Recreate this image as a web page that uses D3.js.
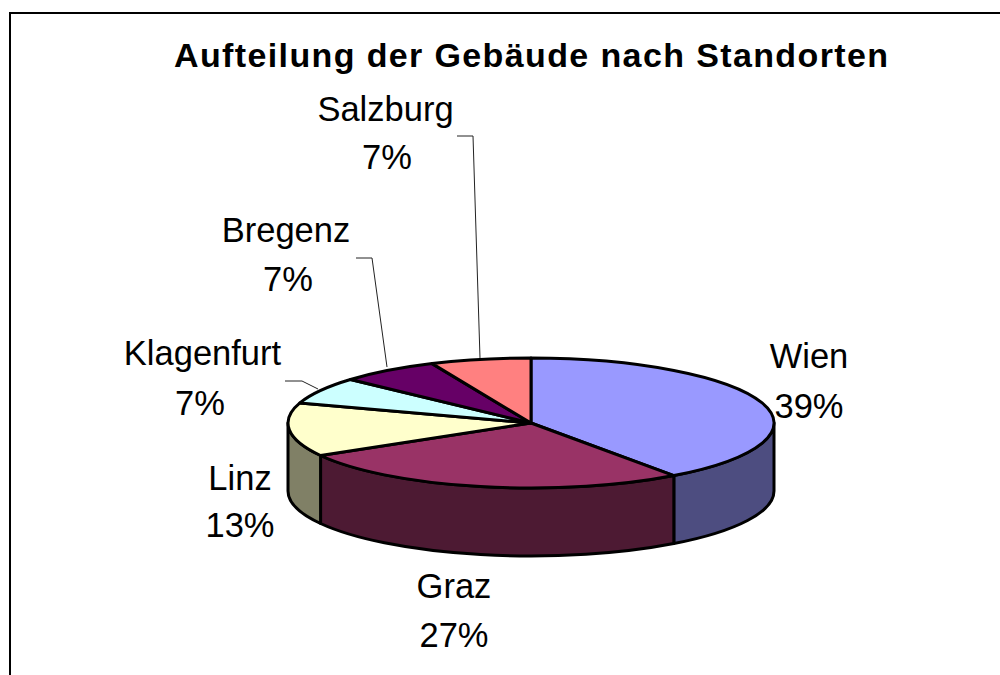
<!DOCTYPE html>
<html><head><meta charset="utf-8">
<script src="https://cdn.jsdelivr.net/npm/d3@7"></script>
<style>html,body{margin:0;padding:0;background:#fff}svg{display:block}text{font-family:"Liberation Sans",Arial,sans-serif;fill:#000}</style>
</head><body><svg id="c" width="1000" height="675"></svg>
<script>
const titleText = "Aufteilung der Gebäude nach Standorten";
const categories = ["Wien","Graz","Linz","Klagenfurt","Bregenz","Salzburg"];
const percentLabels = ["39%","27%","13%","7%","7%","7%"];
const sliceShares = [6,4,2,1,1,1];
const topColors = ["#9999FF","#993366","#FFFFCC","#CCFFFF","#660066","#FF8080"];
const sideColors = ["#4D4D80","#4D1A33","#808066","#668080","#330033","#804040"];
const labelAnchors = [[809,368,809,418],[454,598,454,647],[240,490,240,537],[202.5,365,200,415],[286,242,288,291],[385.5,121,387,169]];
const leaderLines = [[[285,381],[302,381],[318,389]],[[356,258],[372,258],[387,367]],[[457,136],[473,136],[480,358]]];

const cx=531, cy=423, rx=243, ry=65, depth=68;
const svg=d3.select("#c");
svg.append("path").attr("d","M10,675V13H1000").attr("fill","none").attr("stroke","#000").attr("stroke-width",2);
svg.append("text").attr("x",531).attr("y",67).attr("text-anchor","middle")
  .attr("font-size",34).attr("font-weight","bold").attr("textLength",714).attr("lengthAdjust","spacing").text(titleText);

const arcs=d3.pie().sort(null)(sliceShares);
const g=svg.append("g").attr("transform",`translate(${cx},${cy}) scale(${rx},${ry})`);
const h=depth/ry, HALF=Math.PI/2;
arcs.forEach((a,i)=>{
  const a0=Math.max(a.startAngle,HALF), a1=Math.min(a.endAngle,3*HALF);
  if(a1<=a0) return;
  const p=d3.path();
  p.arc(0,0,1,a0-HALF,a1-HALF);
  p.lineTo(Math.cos(a1-HALF),Math.sin(a1-HALF)+h);
  p.arc(0,h,1,a1-HALF,a0-HALF,true);
  p.closePath();
  g.append("path").attr("d",p.toString()).attr("fill",sideColors[i]).attr("stroke","#000")
   .attr("stroke-width",3).attr("vector-effect","non-scaling-stroke").attr("stroke-linejoin","round");
});
const arc=d3.arc().innerRadius(0).outerRadius(1);
g.selectAll("path.top").data(arcs).join("path").attr("class","top").attr("d",arc)
 .attr("fill",(d,i)=>topColors[i]).attr("stroke","#000").attr("stroke-width",3)
 .attr("vector-effect","non-scaling-stroke").attr("stroke-linejoin","round");

const line=d3.line();
leaderLines.forEach(l=>svg.append("path").attr("d",line(l)).attr("fill","none").attr("stroke","#222").attr("stroke-width",1));
categories.forEach((c,i)=>{
  const p=labelAnchors[i];
  svg.append("text").attr("x",p[0]).attr("y",p[1]).attr("text-anchor","middle").attr("font-size",34.5).text(c);
  svg.append("text").attr("x",p[2]).attr("y",p[3]).attr("text-anchor","middle").attr("font-size",34.5).text(percentLabels[i]);
});
</script></body></html>
